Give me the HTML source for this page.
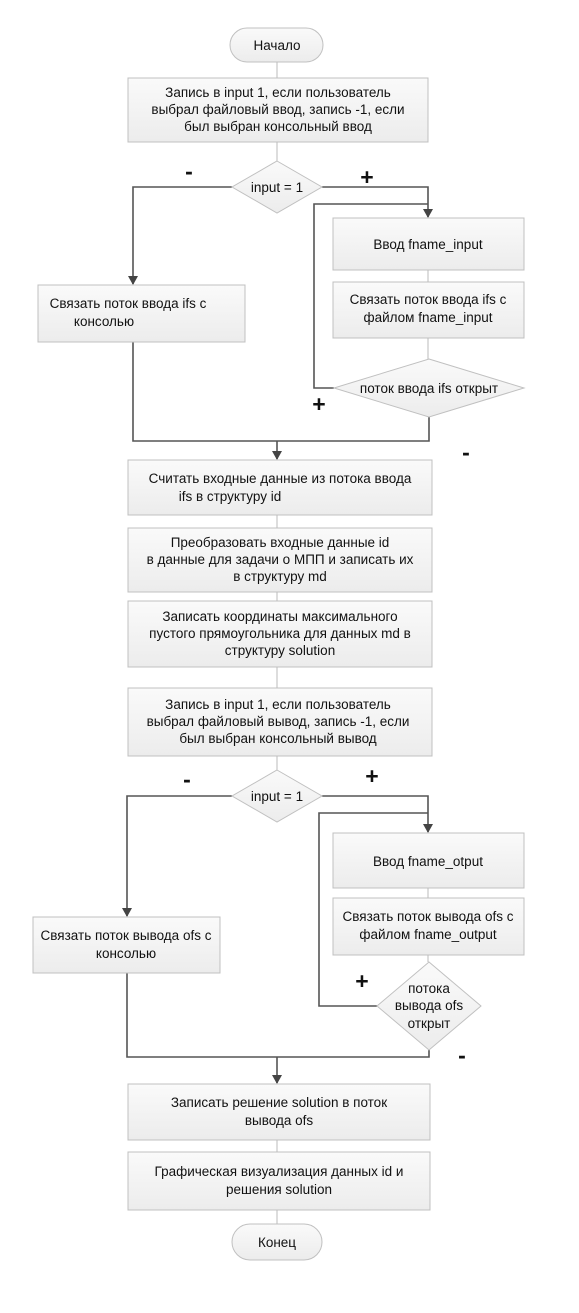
<!DOCTYPE html>
<html><head><meta charset="utf-8"><style>
body{margin:0;background:#fff}
svg text{font-family:"Liberation Sans",sans-serif;font-size:13.5px;fill:#111;text-anchor:middle}
.b{fill:url(#g);stroke:#c0c0c0;stroke-width:1}
.l{fill:none;stroke:#555;stroke-width:1.6}
.s{font-size:23px;font-weight:bold}
</style></head><body>
<svg width="579" height="1308" viewBox="0 0 579 1308">
<defs>
<linearGradient id="g" x1="0" y1="0" x2="0" y2="1"><stop offset="0" stop-color="#fafafa"/><stop offset="1" stop-color="#ececec"/></linearGradient>
<marker id="a" markerWidth="10" markerHeight="10" refX="8" refY="5" orient="auto" markerUnits="userSpaceOnUse"><path d="M0,0 L9,5 L0,10z" fill="#444"/></marker>
</defs>
<g stroke="#bbb" stroke-width="1">
<line x1="277" y1="62" x2="277" y2="78"/><line x1="277" y1="142" x2="277" y2="161"/>
<line x1="428" y1="270" x2="428" y2="282"/><line x1="428" y1="338" x2="428" y2="359"/>
<line x1="277" y1="515" x2="277" y2="528"/><line x1="277" y1="592" x2="277" y2="601"/>
<line x1="277" y1="667" x2="277" y2="688"/><line x1="277" y1="756" x2="277" y2="770"/>
<line x1="428" y1="888" x2="428" y2="898"/><line x1="428" y1="955" x2="428" y2="962"/>
<line x1="277" y1="1140" x2="277" y2="1152"/><line x1="277" y1="1210" x2="277" y2="1224"/>
</g>
<path class="l" d="M232,187 H133 V284" marker-end="url(#a)"/>
<path class="l" d="M322,187 H428 V217" marker-end="url(#a)"/>
<path class="l" d="M334,388 H314 V204 H428"/>
<path class="l" d="M429,417 V441 H133 V342"/>
<path class="l" d="M277,441 V459" marker-end="url(#a)"/>
<path class="l" d="M232,796 H127 V916" marker-end="url(#a)"/>
<path class="l" d="M322,796 H428 V832" marker-end="url(#a)"/>
<path class="l" d="M377,1006 H319 V813 H428"/>
<path class="l" d="M429,1050 V1057 H127 V973"/>
<path class="l" d="M277,1057 V1083" marker-end="url(#a)"/>
<rect class="b" x="230" y="28" width="93" height="34" rx="17"/>
<text x="277" y="50">Начало</text>
<rect class="b" x="128" y="78" width="300" height="64"/>
<text x="278" y="97">Запись в input 1, если пользователь</text>
<text x="278" y="114">выбрал файловый ввод, запись -1, если</text>
<text x="278" y="131">был выбран консольный ввод</text>
<polygon class="b" points="277,161 322,187 277,213 232,187"/>
<text x="277" y="192">input = 1</text>
<rect class="b" x="38" y="285" width="207" height="57"/>
<text x="128" y="308">Связать поток ввода ifs с</text>
<text x="104" y="326">консолью</text>
<rect class="b" x="333" y="218" width="191" height="52"/>
<text x="428" y="249">Ввод fname_input</text>
<rect class="b" x="333" y="282" width="191" height="56"/>
<text x="428" y="304">Связать поток ввода ifs с</text>
<text x="428" y="322">файлом fname_input</text>
<polygon class="b" points="429,359 524,388 429,417 334,388"/>
<text x="429" y="393">поток ввода ifs открыт</text>
<rect class="b" x="128" y="460" width="304" height="55"/>
<text x="280" y="483">Считать входные данные из потока ввода</text>
<text x="230" y="501">ifs в структуру id</text>
<rect class="b" x="128" y="528" width="304" height="64"/>
<text x="280" y="547">Преобразовать входные данные id</text>
<text x="280" y="564">в данные для задачи о МПП и записать их</text>
<text x="280" y="581">в структуру md</text>
<rect class="b" x="128" y="601" width="304" height="66"/>
<text x="280" y="621">Записать координаты максимального</text>
<text x="280" y="638">пустого прямоугольника для данных md в</text>
<text x="280" y="655">структуру solution</text>
<rect class="b" x="128" y="688" width="304" height="68"/>
<text x="278" y="709">Запись в input 1, если пользователь</text>
<text x="278" y="726">выбрал файловый вывод, запись -1, если</text>
<text x="278" y="743">был выбран консольный вывод</text>
<polygon class="b" points="277,770 322,796 277,822 232,796"/>
<text x="277" y="801">input = 1</text>
<rect class="b" x="33" y="917" width="187" height="56"/>
<text x="126" y="940">Связать поток вывода ofs с</text>
<text x="126" y="958">консолью</text>
<rect class="b" x="333" y="833" width="191" height="55"/>
<text x="428" y="866">Ввод fname_otput</text>
<rect class="b" x="333" y="898" width="191" height="57"/>
<text x="428" y="921">Связать поток вывода ofs с</text>
<text x="428" y="939">файлом fname_output</text>
<polygon class="b" points="429,962 481,1006 429,1050 377,1006"/>
<text x="429" y="993">потока</text>
<text x="429" y="1010">вывода ofs</text>
<text x="429" y="1028">открыт</text>
<rect class="b" x="128" y="1084" width="302" height="56"/>
<text x="279" y="1107">Записать решение solution в поток</text>
<text x="279" y="1125">вывода ofs</text>
<rect class="b" x="128" y="1152" width="302" height="58"/>
<text x="279" y="1176">Графическая визуализация данных id и</text>
<text x="279" y="1194">решения solution</text>
<rect class="b" x="232" y="1224" width="90" height="36" rx="18"/>
<text x="277" y="1247">Конец</text>
<text class="s" x="189" y="179">-</text>
<text class="s" x="367" y="185">+</text>
<text class="s" x="319" y="412">+</text>
<text class="s" x="466" y="460">-</text>
<text class="s" x="187" y="787">-</text>
<text class="s" x="372" y="784">+</text>
<text class="s" x="362" y="989">+</text>
<text class="s" x="462" y="1063">-</text>
</svg>
</body></html>
